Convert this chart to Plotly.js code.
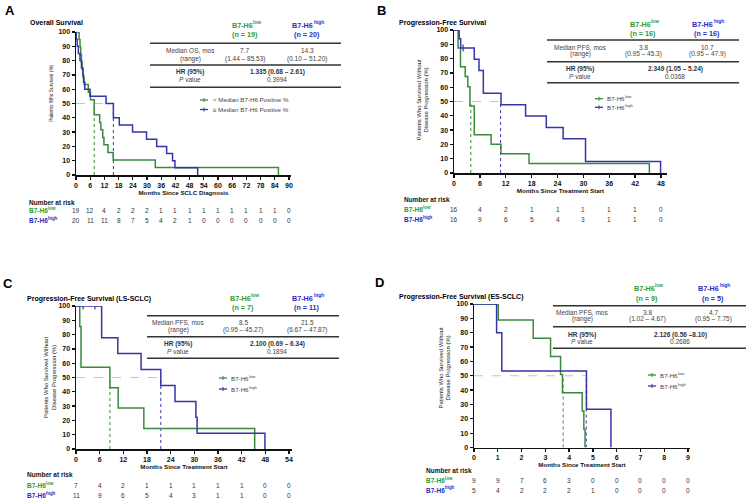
<!DOCTYPE html>
<html><head><meta charset="utf-8">
<script src="https://cdn.plot.ly/plotly-3.0.1.min.js"></script>
<style>html,body{margin:0;padding:0;background:#fff}#chart{width:748px;height:500px}</style>
</head><body><div id="chart"></div>
<script>
// ---------------- DATA ----------------
// Panel A: Overall survival
const A_low_t  = [0, 1.3, 1.7, 2.0, 2.3, 2.6, 3.0, 3.4, 5.2, 6.1, 7.7, 10.0, 10.5, 11.3, 11.8, 13.5, 15.7, 33.5, 85.53];
const A_low_s  = [100, 94.7, 89.5, 84.2, 78.9, 73.7, 68.4, 63.2, 57.9, 52.6, 42.1, 36.8, 31.6, 26.3, 21.1, 15.8, 10.5, 5.3, 0];
const A_high_t = [0, 0.1, 0.5, 1.0, 1.7, 2.3, 2.9, 3.2, 3.7, 5.9, 12.7, 15.8, 18.3, 23.9, 29.8, 34.1, 38.3, 40.8, 41.8, 51.4];
const A_high_s = [100, 95, 90, 85, 80, 75, 70, 65, 60, 55, 50, 40, 35, 30, 25, 20, 15, 10, 5, 0];
const A_cens_t = [], A_cens_s = [];
const A_median = [7.7, 15.8];
const A_riskTimes = [0, 6, 12, 18, 24, 30, 36, 42, 48, 54, 60, 66, 72, 78, 84, 90];
const A_riskLow   = [19, 12, 4, 2, 2, 2, 1, 1, 1, 1, 1, 1, 1, 1, 1, 0];
const A_riskHigh  = [20, 11, 11, 8, 7, 5, 4, 2, 1, 0, 0, 0, 0, 0, 0, 0];
const A_stats = ['19', '20', 'Median OS, mos', '7.7', '(1.44 – 85.53)', '14.3', '(0.10 – 51.20)', '1.335 (0.68 – 2.61)', '0.3994'];

// Panel B: PFS
const B_low_t  = [0, 0.95, 1.5, 2.6, 3.2, 3.7, 4.7, 8.6, 10.9, 17.4, 45.3];
const B_low_s  = [100, 87.5, 74.3, 67.4, 60.3, 46.9, 26.8, 20.1, 13.4, 6.7, 0];
const B_high_t = [0, 1.2, 1.55, 4.7, 5.8, 6.8, 10.9, 16.6, 21.4, 25.3, 30.5, 47.9];
const B_high_s = [100, 93.8, 87.5, 79.5, 71.6, 55.7, 47.7, 39.8, 31.8, 23.9, 8.0, 0];
const B_cens_t = [2.1], B_cens_s = [87.5];
const B_median = [3.9, 10.8];
const B_riskTimes = [0, 6, 12, 18, 24, 30, 36, 42, 48];
const B_riskLow   = [16, 4, 2, 1, 1, 1, 1, 1, 0];
const B_riskHigh  = [16, 9, 6, 5, 4, 3, 1, 1, 0];
const B_stats = ['16', '16', 'Median PFS, mos', '3.8', '(0.95 – 45.3)', '10.7', '(0.95 – 47.9)', '2.349 (1.05 – 5.24)', '0.0368'];

// Panel C: PFS LS-SCLC
const C_low_t  = [0, 0.95, 1.27, 8.6, 10.7, 17.2, 45.3];
const C_low_s  = [100, 85.7, 57.1, 42.9, 28.6, 14.3, 0];
const C_high_t = [0, 6.5, 10.6, 16.5, 21.5, 25.1, 30.4, 30.7, 47.9];
const C_high_s = [100, 77.8, 66.7, 55.6, 44.4, 33.3, 22.2, 11.1, 0];
const C_cens_t = [1.8, 4.8], C_cens_s = [100, 100];
const C_median = [8.6, 21.5];
const C_riskTimes = [0, 6, 12, 18, 24, 30, 36, 42, 48, 54];
const C_riskLow   = [7, 4, 2, 1, 1, 1, 1, 1, 0, 0];
const C_riskHigh  = [11, 9, 6, 5, 4, 3, 1, 1, 0, 0];
const C_stats = ['7', '11', 'Median PFS, mos', '8.5', '(0.95 – 45.27)', '21.5', '(6.67 – 47.87)', '2.100 (0.69 – 6.34)', '0.1894'];

// Panel D: PFS ES-SCLC
const D_low_t  = [0, 1.02, 2.49, 3.22, 3.64, 3.72, 4.55, 4.62, 4.67];
const D_low_s  = [100, 88.9, 76.2, 63.5, 50.8, 38.1, 25.4, 12.7, 0];
const D_high_t = [0, 0.95, 1.17, 4.73, 5.76];
const D_high_s = [100, 80, 53.3, 26.7, 0];
const D_cens_t = [], D_cens_s = [];
const D_median = [3.75, 4.72];
const D_riskTimes = [0, 1, 2, 3, 4, 5, 6, 7, 8, 9];
const D_riskLow   = [9, 9, 7, 6, 3, 0, 0, 0, 0, 0];
const D_riskHigh  = [5, 4, 2, 2, 2, 1, 0, 0, 0, 0];
const D_stats = ['9', '5', 'Median PFS, mos', '3.8', '(1.02 – 4.67)', '4.7', '(0.95 – 7.75)', '2.126 (0.56 –8.10)', '0.2686'];

const titles = ['Overall Survival', 'Progression-Free Survival', 'Progression-Free Survival (LS-SCLC)', 'Progression-Free Survival (ES-SCLC)'];
const letters = ['A', 'B', 'C', 'D'];
const xTitles = ['Months Since SCLC Diagnosis', 'Months Since Treatment Start', 'Months Since Treatment Start', 'Months Since Treatment Start'];
const yTitles = ['Patients Who Survived (%)', 'Patients Who Survived Without<br>Disease Progression (%)', 'Patients Who Survived Without<br>Disease Progression (%)', 'Patients Who Survived Without<br>Disease Progression (%)'];
const legendLabelsA = ['&lt; Median B7-H6 Positive %', '≥ Median B7-H6 Positive %'];
const groupBase = 'B7-H6', groupSup = ['low', 'high'];

// ---------------- STYLE / GEOMETRY ----------------
const W = 748, H = 500;
const FONT = 'Arial, "Liberation Sans", sans-serif';
const GREEN = '#3b8a3b', BLUE = '#3535a8', GTXT = '#2f9a2f', BTXT = '#2b2bc2';
const PX = x => x / W, PY = y => 1 - y / H;

const geo = [
  {x0: 76, xt: 289, x1: 291, yTop: 32, yBot: 175, letter: [10, 10.5], title: [28, 22.7], yt: [52, 93, 4.8],
   tab: {lowX: 245, highX: 307, labX: 190, hrX: 277, h1: 25, h2: 34.5, l1: 43.3, r1: 51, r2: 58.5, l2: 65, r3: 71.7, r4: 79.3, l3: 87.3, lx0: 150, lx1: 341},
   leg: {x: 204, y1: 100, y2: 109.5}, risk: {x: 27, y0: 202, y1: 211, y2: 221}},
  {x0: 454, xt: 661, x1: 667, yTop: 30, yBot: 173, letter: [381, 10.5], title: [397, 23.3], yt: [422.5, 100, 5.9],
   tab: {lowX: 643, highX: 707, labX: 580, hrX: 675, h1: 24, h2: 33.3, l1: 40, r1: 47.3, r2: 54.5, l2: 61.7, r3: 69, r4: 76, l3: 82.7, lx0: 547, lx1: 739},
   leg: {x: 599, y1: 98.7, y2: 107.3}, risk: {x: 402, y0: 199, y1: 209.3, y2: 219.3}},
  {x0: 76, xt: 289, x1: 292, yTop: 306, yBot: 449, letter: [8, 283], title: [25, 299.3], yt: [50, 377, 5.9],
   tab: {lowX: 243, highX: 307, labX: 178, hrX: 277, h1: 298.3, h2: 307.7, l1: 315.7, r1: 322.3, r2: 330, l2: 336.7, r3: 344.3, r4: 351.7, l3: 358.3, lx0: 147, lx1: 339},
   leg: {x: 223, y1: 378, y2: 389}, risk: {x: 25, y0: 474.3, y1: 485.5, y2: 495.5}},
  {x0: 474, xt: 688, x1: 690, yTop: 304, yBot: 447.5, letter: [379, 282], title: [397, 296.7], yt: [444.5, 368, 5.9],
   tab: {lowX: 647, highX: 713, labX: 582, hrX: 680, h1: 288.3, h2: 298.3, l1: 305.7, r1: 312.3, r2: 319.3, l2: 326.7, r3: 334.5, r4: 341.3, l3: 348.3, lx0: 553, lx1: 746},
   leg: {x: 652, y1: 375, y2: 386}, risk: {x: 424, y0: 470.7, y1: 480.7, y2: 490}}
];

const panels = [
  {low: [A_low_t, A_low_s], high: [A_high_t, A_high_s], cens: [A_cens_t, A_cens_s], med: A_median, rt: A_riskTimes, rl: A_riskLow, rh: A_riskHigh, st: A_stats},
  {low: [B_low_t, B_low_s], high: [B_high_t, B_high_s], cens: [B_cens_t, B_cens_s], med: B_median, rt: B_riskTimes, rl: B_riskLow, rh: B_riskHigh, st: B_stats},
  {low: [C_low_t, C_low_s], high: [C_high_t, C_high_s], cens: [C_cens_t, C_cens_s], med: C_median, rt: C_riskTimes, rl: C_riskLow, rh: C_riskHigh, st: C_stats},
  {low: [D_low_t, D_low_s], high: [D_high_t, D_high_s], cens: [D_cens_t, D_cens_s], med: D_median, rt: D_riskTimes, rl: D_riskLow, rh: D_riskHigh, st: D_stats}
];

const traces = [], annotations = [], shapes = [];
const layout = {
  width: W, height: H, margin: {l: 0, r: 0, t: 0, b: 0},
  paper_bgcolor: '#fff', plot_bgcolor: 'rgba(0,0,0,0)',
  showlegend: false, font: {family: FONT, color: '#111'}
};

function ann(text, x, y, o) {
  annotations.push(Object.assign({text: text, x: PX(x), y: PY(y), xref: 'paper', yref: 'paper',
    showarrow: false, xanchor: 'center', yanchor: 'middle', font: {family: FONT, size: 6.5, color: '#444'}}, o || {}));
}
function hline(x0, x1, y, color, w) {
  shapes.push({type: 'line', xref: 'paper', yref: 'paper', x0: PX(x0), x1: PX(x1), y0: PY(y), y1: PY(y), line: {color: color, width: w}});
}
// Arial / Liberation Sans advance widths (em) for the characters used in group names
const CW_B = {'B': .722, '7': .556, '-': .333, 'H': .722, '6': .556, 'l': .278, 'o': .611, 'w': .778, 'h': .611, 'i': .278, 'g': .611};
const CW_R = {'B': .667, '7': .556, '-': .333, 'H': .722, '6': .556, 'l': .222, 'o': .556, 'w': .722, 'h': .556, 'i': .222, 'g': .556};
function textW(s, bold) { const t = bold ? CW_B : CW_R; let w = 0; for (const c of s) w += (t[c] || .556); return w; }
// group label "B7-H6" with a raised superscript, drawn as two texts
function groupLabel(k, x, y, anchor, size, color, bold) {
  const supSize = size * 0.68;
  const wb = textW(groupBase, bold) * size, ws = textW(groupSup[k], bold) * supSize;
  const left = anchor === 'center' ? x - (wb + ws) / 2 - 1 : x;
  const wrap = s => bold ? '<b>' + s + '</b>' : s;
  ann(wrap(groupBase), left, y, {xanchor: 'left', font: {family: FONT, size: size, color: color}});
  ann(wrap(groupSup[k]), left + wb + 0.3, y - size * 0.32, {xanchor: 'left', font: {family: FONT, size: supSize, color: color}});
}

panels.forEach((p, i) => {
  const g = geo[i];
  const n = i === 0 ? '' : String(i + 1);
  const xa = 'x' + n, ya = 'y' + n;
  const tMax = p.rt[p.rt.length - 1];
  const xMax = tMax * (g.x1 - g.x0) / (g.xt - g.x0);
  layout['xaxis' + n] = {
    domain: [PX(g.x0), PX(g.x1)], range: [0, xMax], anchor: ya,
    tickmode: 'array', tickvals: p.rt, ticktext: p.rt.map(String),
    showline: true, linecolor: '#111', linewidth: 1.5, ticks: 'outside', ticklen: 3, tickwidth: 1.3, tickcolor: '#111',
    showgrid: false, zeroline: false, fixedrange: true,
    tickfont: {family: FONT, size: 7, color: '#111', weight: 'bold'},
    title: {text: xTitles[i], font: {family: FONT, size: 6.2, color: '#111', weight: 'bold'}, standoff: 0}
  };
  layout['yaxis' + n] = {
    domain: [PY(g.yBot), PY(g.yTop)], range: [0, 100], anchor: xa,
    tickmode: 'array', tickvals: [0, 10, 20, 30, 40, 50, 60, 70, 80, 90, 100],
    showline: true, linecolor: '#111', linewidth: 1.5, ticks: 'outside', ticklen: 3, tickwidth: 1.3, tickcolor: '#111',
    showgrid: false, zeroline: false, fixedrange: true,
    tickfont: {family: FONT, size: 7, color: '#111', weight: 'bold'}
  };
  // y axis title
  ann(yTitles[i], g.yt[0], g.yt[1], {textangle: -90, font: {family: FONT, size: g.yt[2], color: '#222'}});

  // median reference lines
  const medMax = Math.max(p.med[0], p.med[1]);
  traces.push({x: [0, medMax], y: [50, 50], xaxis: xa, yaxis: ya, mode: 'lines', line: {color: '#c4c4c4', width: 1, dash: 'dash'}, hoverinfo: 'skip'});
  traces.push({x: [p.med[0], p.med[0]], y: [0, 50], xaxis: xa, yaxis: ya, mode: 'lines', line: {color: GREEN, width: 1, dash: 'dot'}, hoverinfo: 'skip'});
  traces.push({x: [p.med[1], p.med[1]], y: [0, 50], xaxis: xa, yaxis: ya, mode: 'lines', line: {color: BLUE, width: 1, dash: 'dot'}, hoverinfo: 'skip'});

  // KM curves
  traces.push({x: p.low[0], y: p.low[1], xaxis: xa, yaxis: ya, mode: 'lines', line: {shape: 'hv', color: GREEN, width: 1.5}, name: 'low'});
  traces.push({x: p.high[0], y: p.high[1], xaxis: xa, yaxis: ya, mode: 'lines', line: {shape: 'hv', color: BLUE, width: 1.5}, name: 'high'});
  if (p.cens[0].length) {
    traces.push({x: p.cens[0], y: p.cens[1], xaxis: xa, yaxis: ya, mode: 'markers',
      marker: {symbol: 'line-ns', size: 5, line: {width: 1.2, color: BLUE}}, hoverinfo: 'skip'});
  }

  // panel letter and title
  ann('<b>' + letters[i] + '</b>', g.letter[0], g.letter[1], {font: {family: FONT, size: 13, color: '#000'}});
  ann('<b>' + titles[i] + '</b>', g.title[0], g.title[1], {xanchor: 'left', font: {family: FONT, size: 7, color: '#000'}});

  // stats table
  const t = g.tab, s = p.st;
  groupLabel(0, t.lowX, t.h1, 'center', 7.2, GTXT, true);
  ann('<b>(n = ' + s[0] + ')</b>', t.lowX, t.h2, {font: {family: FONT, size: 7.2, color: GTXT}});
  groupLabel(1, t.highX, t.h1, 'center', 7.2, BTXT, true);
  ann('<b>(n = ' + s[1] + ')</b>', t.highX, t.h2, {font: {family: FONT, size: 7.2, color: BTXT}});
  hline(t.lx0, t.lx1, t.l1, '#333', 1.6);
  ann(s[2], t.labX, t.r1);
  ann('(range)', t.labX, t.r2);
  ann(s[3], t.lowX, t.r1);
  ann(s[4], t.lowX, t.r2);
  ann(s[5], t.highX, t.r1);
  ann(s[6], t.highX, t.r2);
  hline(t.lx0, t.lx1, t.l2, '#333', 1.6);
  ann('<b>HR (95%)</b>', t.labX, t.r3, {font: {family: FONT, size: 6.5, color: '#333'}});
  ann('<i>P</i> value', t.labX, t.r4);
  ann('<b>' + s[7] + '</b>', t.hrX, t.r3, {font: {family: FONT, size: 6.5, color: '#333'}});
  ann(s[8], t.hrX, t.r4);
  hline(t.lx0, t.lx1, t.l3, '#333', 1.6);

  // legend
  const L = g.leg;
  [[L.y1, GREEN, 0], [L.y2, BLUE, 1]].forEach(([yy, c, k]) => {
    hline(L.x - 4, L.x + 4, yy, c, 1.3);
    shapes.push({type: 'line', xref: 'paper', yref: 'paper', x0: PX(L.x), x1: PX(L.x), y0: PY(yy - 2), y1: PY(yy + 2), line: {color: c, width: 1}});
    if (i === 0) ann(legendLabelsA[k], L.x + 7, yy, {xanchor: 'left', font: {family: FONT, size: 6.2, color: '#444'}});
    else groupLabel(k, L.x + 6, yy, 'left', 6.2, '#444', false);
  });

  // number at risk
  const R = g.risk;
  ann('<b>Number at risk</b>', R.x, R.y0, {xanchor: 'left', font: {family: FONT, size: 6.5, color: '#111'}});
  groupLabel(0, R.x, R.y1, 'left', 6.5, GTXT, true);
  groupLabel(1, R.x, R.y2, 'left', 6.5, BTXT, true);
  p.rt.forEach((tt, k) => {
    annotations.push({text: String(p.rl[k]), x: tt, xref: xa, y: PY(R.y1), yref: 'paper', showarrow: false,
      xanchor: 'center', yanchor: 'middle', font: {family: FONT, size: 6.5, color: '#333'}});
    annotations.push({text: String(p.rh[k]), x: tt, xref: xa, y: PY(R.y2), yref: 'paper', showarrow: false,
      xanchor: 'center', yanchor: 'middle', font: {family: FONT, size: 6.5, color: '#333'}});
  });
});

layout.annotations = annotations;
layout.shapes = shapes;
Plotly.newPlot('chart', traces, layout, {displayModeBar: false, staticPlot: true});
</script></body></html>
